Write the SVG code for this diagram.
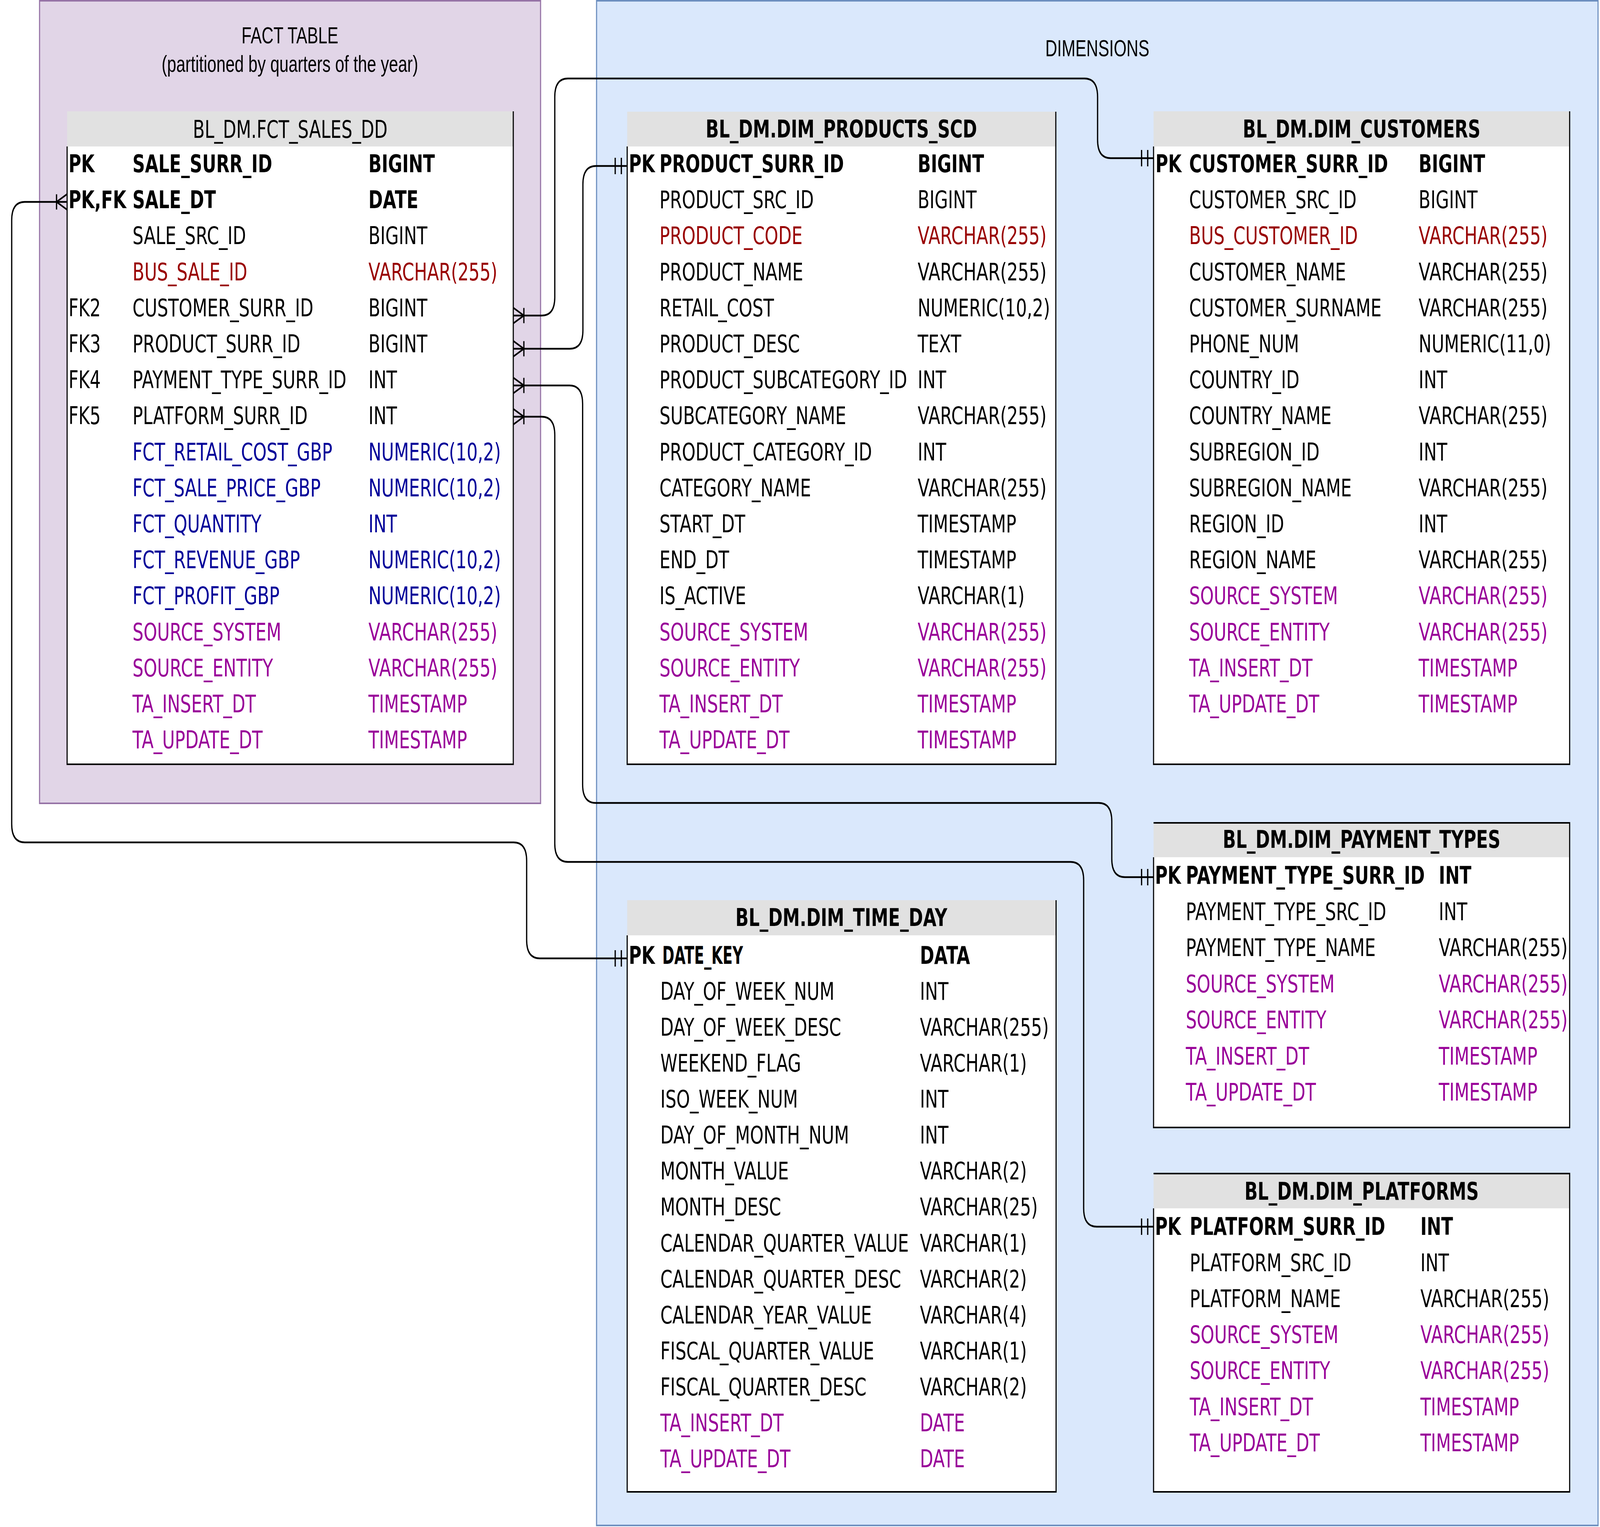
<svg xmlns="http://www.w3.org/2000/svg" width="5745" height="3910" viewBox="0 0 5745 3910" preserveAspectRatio="none" style="width:100vw;height:100vh;display:block">
<defs>
<style>
.t{font-family:"DejaVu Sans","Verdana",sans-serif;font-size:62px;fill:#000}
.b{font-weight:bold}
.r{fill:#990000}
.bl{fill:#000099}
.p{fill:#990099}
.hd{text-anchor:middle}
.title{font-family:"Liberation Sans",Arial,Helvetica,sans-serif;font-size:59px;fill:#000;text-anchor:middle}
.hdr{fill:#e1e1e1;stroke:none}
.body{fill:#fff;stroke:none}
.bord{fill:none;stroke:#000;stroke-width:4}
.conn{fill:none;stroke:#000;stroke-width:4.5}
</style>
<marker id="many" markerUnits="userSpaceOnUse" orient="auto" refX="0" refY="0" markerWidth="60" markerHeight="60" overflow="visible">
<path d="M0,-20 L38,0 L0,20 M38,-19.5 V19.5" fill="none" stroke="#000" stroke-width="4.5"/>
</marker>
<marker id="one" markerUnits="userSpaceOnUse" orient="auto" refX="0" refY="0" markerWidth="60" markerHeight="60" overflow="visible">
<path d="M-43,-21 V21 M-21,-21 V21" fill="none" stroke="#000" stroke-width="4.5"/>
</marker>
</defs>
<rect width="5745" height="3910" fill="#fff"/>

<g id="fact-container">
<rect x="142" y="2" width="1799" height="2055" fill="#e1d5e7" stroke="#9673a6" stroke-width="4"/>
<text class="title" x="1041" y="111">FACT TABLE</text>
<text class="title" x="1041" y="184">(partitioned by quarters of the year)</text>
</g>

<g id="dimensions-container">
<rect x="2142" y="2" width="3596" height="3904" fill="#dae8fc" stroke="#6c8ebf" stroke-width="4"/>
<text class="title" x="3940" y="144">DIMENSIONS</text>
</g>

<g id="fct-sales-dd">
<rect class="hdr" x="241" y="285" width="1602" height="90"/>
<rect class="body" x="241" y="375" width="1602" height="1582"/>
<path class="bord" d="M1843,285 V1957 H241 V375"/>
<text class="t hd" x="1042" y="353">BL_DM.FCT_SALES_DD</text>
<text class="t b" x="246" y="441">PK</text><text class="t b" x="476" y="441">SALE_SURR_ID</text><text class="t b" x="1323" y="441">BIGINT</text>
<text class="t b" x="246" y="533">PK,FK</text><text class="t b" x="476" y="533">SALE_DT</text><text class="t b" x="1323" y="533">DATE</text>
<text class="t" x="476" y="625">SALE_SRC_ID</text><text class="t" x="1323" y="625">BIGINT</text>
<text class="t r" x="476" y="718">BUS_SALE_ID</text><text class="t r" x="1323" y="718">VARCHAR(255)</text>
<text class="t" x="246" y="810">FK2</text><text class="t" x="476" y="810">CUSTOMER_SURR_ID</text><text class="t" x="1323" y="810">BIGINT</text>
<text class="t" x="246" y="902">FK3</text><text class="t" x="476" y="902">PRODUCT_SURR_ID</text><text class="t" x="1323" y="902">BIGINT</text>
<text class="t" x="246" y="994">FK4</text><text class="t" x="476" y="994">PAYMENT_TYPE_SURR_ID</text><text class="t" x="1323" y="994">INT</text>
<text class="t" x="246" y="1086">FK5</text><text class="t" x="476" y="1086">PLATFORM_SURR_ID</text><text class="t" x="1323" y="1086">INT</text>
<text class="t bl" x="476" y="1179">FCT_RETAIL_COST_GBP</text><text class="t bl" x="1323" y="1179">NUMERIC(10,2)</text>
<text class="t bl" x="476" y="1271">FCT_SALE_PRICE_GBP</text><text class="t bl" x="1323" y="1271">NUMERIC(10,2)</text>
<text class="t bl" x="476" y="1363">FCT_QUANTITY</text><text class="t bl" x="1323" y="1363">INT</text>
<text class="t bl" x="476" y="1455">FCT_REVENUE_GBP</text><text class="t bl" x="1323" y="1455">NUMERIC(10,2)</text>
<text class="t bl" x="476" y="1547">FCT_PROFIT_GBP</text><text class="t bl" x="1323" y="1547">NUMERIC(10,2)</text>
<text class="t p" x="476" y="1640">SOURCE_SYSTEM</text><text class="t p" x="1323" y="1640">VARCHAR(255)</text>
<text class="t p" x="476" y="1732">SOURCE_ENTITY</text><text class="t p" x="1323" y="1732">VARCHAR(255)</text>
<text class="t p" x="476" y="1824">TA_INSERT_DT</text><text class="t p" x="1323" y="1824">TIMESTAMP</text>
<text class="t p" x="476" y="1916">TA_UPDATE_DT</text><text class="t p" x="1323" y="1916">TIMESTAMP</text>
</g>

<g id="dim-products-scd">
<rect class="hdr" x="2252" y="286" width="1539" height="89"/>
<rect class="body" x="2252" y="375" width="1539" height="1582"/>
<path class="bord" d="M3791,286 V1957 H2252 V375"/>
<text class="t b hd" x="3021" y="352">BL_DM.DIM_PRODUCTS_SCD</text>
<text class="t b" x="2258" y="441">PK</text><text class="t b" x="2368" y="441">PRODUCT_SURR_ID</text><text class="t b" x="3295" y="441">BIGINT</text>
<text class="t" x="2368" y="533">PRODUCT_SRC_ID</text><text class="t" x="3295" y="533">BIGINT</text>
<text class="t r" x="2368" y="625">PRODUCT_CODE</text><text class="t r" x="3295" y="625">VARCHAR(255)</text>
<text class="t" x="2368" y="718">PRODUCT_NAME</text><text class="t" x="3295" y="718">VARCHAR(255)</text>
<text class="t" x="2368" y="810">RETAIL_COST</text><text class="t" x="3295" y="810">NUMERIC(10,2)</text>
<text class="t" x="2368" y="902">PRODUCT_DESC</text><text class="t" x="3295" y="902">TEXT</text>
<text class="t" x="2368" y="994">PRODUCT_SUBCATEGORY_ID</text><text class="t" x="3295" y="994">INT</text>
<text class="t" x="2368" y="1086">SUBCATEGORY_NAME</text><text class="t" x="3295" y="1086">VARCHAR(255)</text>
<text class="t" x="2368" y="1179">PRODUCT_CATEGORY_ID</text><text class="t" x="3295" y="1179">INT</text>
<text class="t" x="2368" y="1271">CATEGORY_NAME</text><text class="t" x="3295" y="1271">VARCHAR(255)</text>
<text class="t" x="2368" y="1363">START_DT</text><text class="t" x="3295" y="1363">TIMESTAMP</text>
<text class="t" x="2368" y="1455">END_DT</text><text class="t" x="3295" y="1455">TIMESTAMP</text>
<text class="t" x="2368" y="1547">IS_ACTIVE</text><text class="t" x="3295" y="1547">VARCHAR(1)</text>
<text class="t p" x="2368" y="1640">SOURCE_SYSTEM</text><text class="t p" x="3295" y="1640">VARCHAR(255)</text>
<text class="t p" x="2368" y="1732">SOURCE_ENTITY</text><text class="t p" x="3295" y="1732">VARCHAR(255)</text>
<text class="t p" x="2368" y="1824">TA_INSERT_DT</text><text class="t p" x="3295" y="1824">TIMESTAMP</text>
<text class="t p" x="2368" y="1916">TA_UPDATE_DT</text><text class="t p" x="3295" y="1916">TIMESTAMP</text>
</g>

<g id="dim-customers">
<rect class="hdr" x="4142" y="285" width="1494" height="90"/>
<rect class="body" x="4142" y="375" width="1494" height="1582"/>
<path class="bord" d="M5636,285 V1957 H4142 V375"/>
<text class="t b hd" x="4889" y="352">BL_DM.DIM_CUSTOMERS</text>
<text class="t b" x="4149" y="441">PK</text><text class="t b" x="4270" y="441">CUSTOMER_SURR_ID</text><text class="t b" x="5094" y="441">BIGINT</text>
<text class="t" x="4270" y="533">CUSTOMER_SRC_ID</text><text class="t" x="5094" y="533">BIGINT</text>
<text class="t r" x="4270" y="625">BUS_CUSTOMER_ID</text><text class="t r" x="5094" y="625">VARCHAR(255)</text>
<text class="t" x="4270" y="718">CUSTOMER_NAME</text><text class="t" x="5094" y="718">VARCHAR(255)</text>
<text class="t" x="4270" y="810">CUSTOMER_SURNAME</text><text class="t" x="5094" y="810">VARCHAR(255)</text>
<text class="t" x="4270" y="902">PHONE_NUM</text><text class="t" x="5094" y="902">NUMERIC(11,0)</text>
<text class="t" x="4270" y="994">COUNTRY_ID</text><text class="t" x="5094" y="994">INT</text>
<text class="t" x="4270" y="1086">COUNTRY_NAME</text><text class="t" x="5094" y="1086">VARCHAR(255)</text>
<text class="t" x="4270" y="1179">SUBREGION_ID</text><text class="t" x="5094" y="1179">INT</text>
<text class="t" x="4270" y="1271">SUBREGION_NAME</text><text class="t" x="5094" y="1271">VARCHAR(255)</text>
<text class="t" x="4270" y="1363">REGION_ID</text><text class="t" x="5094" y="1363">INT</text>
<text class="t" x="4270" y="1455">REGION_NAME</text><text class="t" x="5094" y="1455">VARCHAR(255)</text>
<text class="t p" x="4270" y="1547">SOURCE_SYSTEM</text><text class="t p" x="5094" y="1547">VARCHAR(255)</text>
<text class="t p" x="4270" y="1640">SOURCE_ENTITY</text><text class="t p" x="5094" y="1640">VARCHAR(255)</text>
<text class="t p" x="4270" y="1732">TA_INSERT_DT</text><text class="t p" x="5094" y="1732">TIMESTAMP</text>
<text class="t p" x="4270" y="1824">TA_UPDATE_DT</text><text class="t p" x="5094" y="1824">TIMESTAMP</text>
</g>

<g id="dim-payment-types">
<rect class="hdr" x="4142" y="2107" width="1494" height="88"/>
<rect class="body" x="4142" y="2195" width="1494" height="692"/>
<path class="bord" d="M4142,2107 H5636 V2887 H4142 V2195"/>
<text class="t b hd" x="4889" y="2171">BL_DM.DIM_PAYMENT_TYPES</text>
<text class="t b" x="4147" y="2263">PK</text><text class="t b" x="4258" y="2263">PAYMENT_TYPE_SURR_ID</text><text class="t b" x="5166" y="2263">INT</text>
<text class="t" x="4258" y="2356">PAYMENT_TYPE_SRC_ID</text><text class="t" x="5166" y="2356">INT</text>
<text class="t" x="4258" y="2448">PAYMENT_TYPE_NAME</text><text class="t" x="5166" y="2448">VARCHAR(255)</text>
<text class="t p" x="4258" y="2541">SOURCE_SYSTEM</text><text class="t p" x="5166" y="2541">VARCHAR(255)</text>
<text class="t p" x="4258" y="2633">SOURCE_ENTITY</text><text class="t p" x="5166" y="2633">VARCHAR(255)</text>
<text class="t p" x="4258" y="2726">TA_INSERT_DT</text><text class="t p" x="5166" y="2726">TIMESTAMP</text>
<text class="t p" x="4258" y="2818">TA_UPDATE_DT</text><text class="t p" x="5166" y="2818">TIMESTAMP</text>
</g>

<g id="dim-platforms">
<rect class="hdr" x="4142" y="3005" width="1494" height="89"/>
<rect class="body" x="4142" y="3094" width="1494" height="726"/>
<path class="bord" d="M4142,3005 H5636 V3820 H4142 V3094"/>
<text class="t b hd" x="4889" y="3072">BL_DM.DIM_PLATFORMS</text>
<text class="t b" x="4147" y="3162">PK</text><text class="t b" x="4272" y="3162">PLATFORM_SURR_ID</text><text class="t b" x="5100" y="3162">INT</text>
<text class="t" x="4272" y="3255">PLATFORM_SRC_ID</text><text class="t" x="5100" y="3255">INT</text>
<text class="t" x="4272" y="3347">PLATFORM_NAME</text><text class="t" x="5100" y="3347">VARCHAR(255)</text>
<text class="t p" x="4272" y="3439">SOURCE_SYSTEM</text><text class="t p" x="5100" y="3439">VARCHAR(255)</text>
<text class="t p" x="4272" y="3531">SOURCE_ENTITY</text><text class="t p" x="5100" y="3531">VARCHAR(255)</text>
<text class="t p" x="4272" y="3624">TA_INSERT_DT</text><text class="t p" x="5100" y="3624">TIMESTAMP</text>
<text class="t p" x="4272" y="3716">TA_UPDATE_DT</text><text class="t p" x="5100" y="3716">TIMESTAMP</text>
</g>

<g id="dim-time-day">
<rect class="hdr" x="2252" y="2305" width="1540" height="90"/>
<rect class="body" x="2252" y="2395" width="1540" height="1425"/>
<path class="bord" d="M3792,2305 V3820 H2252 V2395"/>
<text class="t b hd" x="3021" y="2371">BL_DM.DIM_TIME_DAY</text>
<text class="t b" x="2258" y="2468">PK</text><text class="t b" x="2378" y="2468" textLength="290" lengthAdjust="spacingAndGlyphs">DATE_KEY</text><text class="t b" x="3303" y="2468">DATA</text>
<text class="t" x="2371" y="2560">DAY_OF_WEEK_NUM</text><text class="t" x="3303" y="2560">INT</text>
<text class="t" x="2371" y="2652">DAY_OF_WEEK_DESC</text><text class="t" x="3303" y="2652">VARCHAR(255)</text>
<text class="t" x="2371" y="2744">WEEKEND_FLAG</text><text class="t" x="3303" y="2744">VARCHAR(1)</text>
<text class="t" x="2371" y="2836">ISO_WEEK_NUM</text><text class="t" x="3303" y="2836">INT</text>
<text class="t" x="2371" y="2928">DAY_OF_MONTH_NUM</text><text class="t" x="3303" y="2928">INT</text>
<text class="t" x="2371" y="3020">MONTH_VALUE</text><text class="t" x="3303" y="3020">VARCHAR(2)</text>
<text class="t" x="2371" y="3112">MONTH_DESC</text><text class="t" x="3303" y="3112">VARCHAR(25)</text>
<text class="t" x="2371" y="3205">CALENDAR_QUARTER_VALUE</text><text class="t" x="3303" y="3205">VARCHAR(1)</text>
<text class="t" x="2371" y="3297">CALENDAR_QUARTER_DESC</text><text class="t" x="3303" y="3297">VARCHAR(2)</text>
<text class="t" x="2371" y="3389">CALENDAR_YEAR_VALUE</text><text class="t" x="3303" y="3389">VARCHAR(4)</text>
<text class="t" x="2371" y="3481">FISCAL_QUARTER_VALUE</text><text class="t" x="3303" y="3481">VARCHAR(1)</text>
<text class="t" x="2371" y="3573">FISCAL_QUARTER_DESC</text><text class="t" x="3303" y="3573">VARCHAR(2)</text>
<text class="t p" x="2371" y="3665">TA_INSERT_DT</text><text class="t p" x="3303" y="3665">DATE</text>
<text class="t p" x="2371" y="3757">TA_UPDATE_DT</text><text class="t p" x="3303" y="3757">DATE</text>
</g>

<g id="connectors">
<path class="conn" marker-start="url(#many)" marker-end="url(#one)" d="M1843,808 H1945 Q1992,808 1992,761 V248 Q1992,201 2039,201 H3894 Q3941,201 3941,248 V358 Q3941,405 3988,405 H4142"/>
<path class="conn" marker-start="url(#many)" marker-end="url(#one)" d="M1843,893 H2046 Q2093,893 2093,846 V472 Q2093,425 2140,425 H2252"/>
<path class="conn" marker-start="url(#many)" marker-end="url(#one)" d="M1843,987 H2045 Q2092,987 2092,1034 V2009 Q2092,2056 2139,2056 H3945 Q3992,2056 3992,2103 V2199 Q3992,2246 4039,2246 H4142"/>
<path class="conn" marker-start="url(#many)" marker-end="url(#one)" d="M1843,1067 H1945 Q1992,1067 1992,1114 V2160 Q1992,2207 2039,2207 H3844 Q3891,2207 3891,2254 V3094 Q3891,3141 3938,3141 H4142"/>
<path class="conn" marker-start="url(#many)" marker-end="url(#one)" d="M241,517 H89 Q42,517 42,564 V2110 Q42,2157 89,2157 H1844 Q1891,2157 1891,2204 V2407 Q1891,2454 1938,2454 H2252"/>
</g>
</svg>
